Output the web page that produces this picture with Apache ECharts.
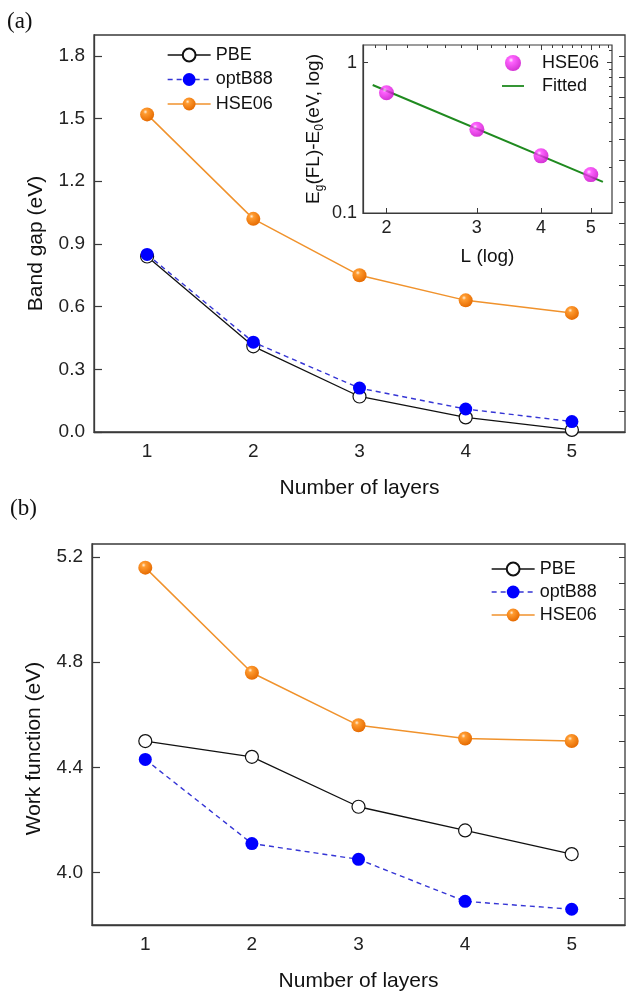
<!DOCTYPE html>
<html><head><meta charset="utf-8">
<script src="https://cdn.jsdelivr.net/npm/echarts@6/dist/echarts.min.js"></script>
<style>html,body{margin:0;padding:0;background:#fff}#c{width:626px;height:993px}</style>
</head><body><div id="c"></div>
<script>
// ---------- data ----------
const layers = ['1', '2', '3', '4', '5'];
const gapPBE = [0.84, 0.41, 0.17, 0.07, 0.01];
const gapOptB88 = [0.85, 0.43, 0.21, 0.11, 0.05];
const gapHSE06 = [1.52, 1.02, 0.75, 0.63, 0.57];
const wfPBE = [4.50, 4.44, 4.25, 4.16, 4.07];
const wfOptB88 = [4.43, 4.11, 4.05, 3.89, 3.86];
const wfHSE06 = [5.16, 4.76, 4.56, 4.51, 4.50];
const insetL = [2, 3, 4, 5];
const insetHSE06 = [0.63, 0.36, 0.24, 0.18];
const fitL = [1.88, 5.28];
const fitVal = [0.71, 0.161];
// tick labels / tick positions
const gapTicks = [0, 0.3, 0.6, 0.9, 1.2, 1.5, 1.8];
const gapMinorTicks = [0.1, 0.2, 0.4, 0.5, 0.7, 0.8, 1.0, 1.1, 1.3, 1.4, 1.6, 1.7];
const wfTicks = [4.0, 4.4, 4.8, 5.2];
const wfMinorTicks = [3.9, 4.1, 4.2, 4.3, 4.5, 4.6, 4.7, 4.9, 5.0, 5.1];
const insetLTicks = [2, 3, 4, 5];
const insetLMinor = [1.9, 2.2, 2.4, 2.6, 2.8, 3.2, 3.4, 3.6, 3.8, 4.2, 4.4, 4.6, 4.8, 5.2, 5.4];
const insetYTicks = [0.1, 1];
const insetYMinor = [0.2, 0.3, 0.4, 0.5, 0.6, 0.7, 0.8, 0.9, 1.2];

// ---------- styles ----------
const FONT = 'Liberation Sans';
const AX = '#3a3a3a';
const orangeBall = {type: 'radial', x: 0.38, y: 0.32, r: 0.7, colorStops: [
  {offset: 0, color: '#fff1dc'}, {offset: 0.22, color: '#ff9b30'}, {offset: 1, color: '#e56a00'}]};
const magentaBall = {type: 'radial', x: 0.38, y: 0.32, r: 0.7, colorStops: [
  {offset: 0, color: '#ffe6ff'}, {offset: 0.22, color: '#ff3cff'}, {offset: 1, color: '#c800c8'}]};
const lbl = {fontFamily: FONT, fontSize: 19, color: '#222'};

function catX(grid, gap) {
  return {type: 'category', gridIndex: grid, data: layers, boundaryGap: true,
    axisLine: {lineStyle: {color: AX, width: 1.3}},
    axisTick: {inside: true, alignWithLabel: true, length: 7, lineStyle: {color: AX, width: 1.2}},
    axisLabel: Object.assign({margin: 10}, lbl),
    splitLine: {show: false},
    name: 'Number of layers', nameLocation: 'middle', nameGap: gap,
    nameTextStyle: {fontFamily: FONT, fontSize: 21, color: '#111'}};
}
function valY(grid, min, max, ticks, name, gap, shift) {
  return {type: 'value', gridIndex: grid, min: min, max: max,
    axisLine: {show: true, lineStyle: {color: AX, width: 1.3}},
    axisTick: {show: true, inside: true, length: 8, customValues: ticks, lineStyle: {color: AX, width: 1.2}},
    axisLabel: Object.assign({margin: 9, customValues: ticks, formatter: v => Number(v).toFixed(1)}, lbl),
    splitLine: {show: false},
    name: name, nameLocation: 'middle', nameGap: gap,
    nameTextStyle: {fontFamily: FONT, fontSize: 21, color: '#111', padding: [0, shift, 0, 0]}};
}
function tickOnly(type, grid, min, max, ticks, opts) {
  return Object.assign({type: type, gridIndex: grid, min: min, max: max,
    axisLine: {show: false},
    axisTick: {show: true, inside: opts.inside, length: opts.len, customValues: ticks, lineStyle: {color: AX, width: 1}},
    axisLabel: {show: false}, splitLine: {show: false}}, opts.extra || {});
}
const legendText = {fontFamily: FONT, fontSize: 18, color: '#111'};

const option = {
  backgroundColor: '#fff',
  animation: false,
  textStyle: {fontFamily: FONT},
  graphic: [
    {type: 'text', left: 7, top: 10, style: {text: '(a)', fontFamily: 'Liberation Serif', fontSize: 23, fill: '#111'}},
    {type: 'text', left: 10, top: 497, style: {text: '(b)', fontFamily: 'Liberation Serif', fontSize: 23, fill: '#111'}}
  ],
  grid: [
    {left: 94, top: 35, width: 531, height: 397, show: true, borderColor: AX, borderWidth: 1.3, backgroundColor: 'transparent'},
    {left: 92, top: 544, width: 533, height: 388, show: true, borderColor: AX, borderWidth: 1.3, backgroundColor: 'transparent'},
    {left: 363, top: 45, width: 249, height: 168, show: true, borderColor: AX, borderWidth: 1.2, backgroundColor: '#fff'}
  ],
  xAxis: [
    catX(0, 46), catX(1, 46),
    {type: 'log', logBase: 10, gridIndex: 2, min: 1.8, max: 5.5,
      axisLine: {lineStyle: {color: AX, width: 1.2}},
      axisTick: {inside: true, length: 5, customValues: insetLTicks, lineStyle: {color: AX}},
      axisLabel: Object.assign({margin: 6, customValues: insetLTicks}, lbl, {fontSize: 18}),
      splitLine: {show: false}, minorTick: {show: false},
      name: 'L (log)', nameLocation: 'middle', nameGap: 34,
      nameTextStyle: {fontFamily: FONT, fontSize: 19, color: '#111'}},
    tickOnly('log', 2, 1.8, 5.5, insetLMinor, {inside: true, len: 3}),
    tickOnly('log', 2, 1.8, 5.5, insetLTicks, {inside: true, len: 5, extra: {position: 'top'}}),
    tickOnly('log', 2, 1.8, 5.5, insetLMinor, {inside: true, len: 3, extra: {position: 'top'}})
  ],
  yAxis: [
    valY(0, 0, 1.9, gapTicks, 'Band gap (eV)', 47, 20),
    tickOnly('value', 0, 0, 1.9, gapMinorTicks, {inside: true, len: 4}),
    tickOnly('value', 0, 0, 1.9, gapTicks.concat(gapMinorTicks), {inside: true, len: 6, extra: {position: 'right'}}),
    valY(1, 3.8, 5.25, wfTicks, 'Work function (eV)', 47, 28),
    tickOnly('value', 1, 3.8, 5.25, wfMinorTicks, {inside: true, len: 4}),
    tickOnly('value', 1, 3.8, 5.25, wfTicks.concat(wfMinorTicks), {inside: true, len: 6, extra: {position: 'right'}}),
    {type: 'log', logBase: 10, gridIndex: 2, min: 0.1, max: 1.31,
      axisLine: {lineStyle: {color: AX, width: 1.2}},
      axisTick: {inside: true, length: 5, customValues: insetYTicks, lineStyle: {color: AX}},
      axisLabel: Object.assign({margin: 6, customValues: insetYTicks, formatter: v => String(v)}, lbl, {fontSize: 18}),
      splitLine: {show: false}, minorTick: {show: false},
      name: '{n|E}{s|g}{n|(FL)-E}{s|0}{n|(eV, log)}', nameLocation: 'middle', nameGap: 37,
      nameTextStyle: {fontFamily: FONT, fontSize: 19, color: '#111',
        rich: {n: {fontFamily: FONT, fontSize: 19, color: '#111', lineHeight: 24, verticalAlign: 'middle'},
               s: {fontFamily: FONT, fontSize: 12, color: '#111', lineHeight: 24, verticalAlign: 'bottom', padding: [10, 0, 0, 0]}}}},
    tickOnly('log', 2, 0.1, 1.31, insetYMinor, {inside: true, len: 3}),
    tickOnly('log', 2, 0.1, 1.31, insetYTicks, {inside: true, len: 5, extra: {position: 'right'}}),
    tickOnly('log', 2, 0.1, 1.31, insetYMinor, {inside: true, len: 3, extra: {position: 'right'}})
  ],
  legend: [
    {left: 167, top: 46, padding: 0, orient: 'vertical', itemWidth: 43, itemHeight: 16, itemGap: 6.5,
      lineStyle: {width: 1.3}, data: ['PBE', 'optB88', 'HSE06'], textStyle: legendText},
    {left: 491, top: 560, padding: 0, orient: 'vertical', itemWidth: 43, itemHeight: 16, itemGap: 5,
      lineStyle: {width: 1.3}, data: ['PBE', 'optB88', 'HSE06'], textStyle: legendText},
    {left: 502, top: 54, padding: 0, orient: 'vertical', itemWidth: 22, itemHeight: 16, itemGap: 5,
      data: [{name: 'HSE06 (inset)'}, {name: 'Fitted', icon: 'path://M0,0 M0,7.1 L22,7.1 L22,8.9 L0,8.9 Z M22,16'}],
      formatter: n => n.replace(' (inset)', ''),
      textStyle: Object.assign({padding: [0, 0, 0, 13]}, legendText)}
  ],
  series: [
    {name: 'PBE', type: 'line', xAxisIndex: 0, yAxisIndex: 0, data: gapPBE, symbol: 'circle', symbolSize: 13,
      lineStyle: {color: '#111', width: 1.3}, itemStyle: {color: '#fff', borderColor: '#111', borderWidth: 1.2}, z: 3},
    {name: 'optB88', type: 'line', xAxisIndex: 0, yAxisIndex: 0, data: gapOptB88, symbol: 'circle', symbolSize: 13,
      lineStyle: {color: '#3535d5', width: 1.4, type: [5, 4]}, itemStyle: {color: '#0000ff'}, z: 4},
    {name: 'HSE06', type: 'line', xAxisIndex: 0, yAxisIndex: 0, data: gapHSE06, symbol: 'circle', symbolSize: 14,
      lineStyle: {color: '#f0922c', width: 1.5}, itemStyle: {color: orangeBall}, z: 5},
    {name: 'PBE', type: 'line', xAxisIndex: 1, yAxisIndex: 3, data: wfPBE, symbol: 'circle', symbolSize: 13,
      lineStyle: {color: '#111', width: 1.3}, itemStyle: {color: '#fff', borderColor: '#111', borderWidth: 1.2}, z: 3},
    {name: 'optB88', type: 'line', xAxisIndex: 1, yAxisIndex: 3, data: wfOptB88, symbol: 'circle', symbolSize: 13,
      lineStyle: {color: '#3535d5', width: 1.4, type: [5, 4]}, itemStyle: {color: '#0000ff'}, z: 4},
    {name: 'HSE06', type: 'line', xAxisIndex: 1, yAxisIndex: 3, data: wfHSE06, symbol: 'circle', symbolSize: 14,
      lineStyle: {color: '#f0922c', width: 1.5}, itemStyle: {color: orangeBall}, z: 5},
    {name: 'Fitted', type: 'line', xAxisIndex: 2, yAxisIndex: 6, data: fitL.map((x, i) => [x, fitVal[i]]),
      showSymbol: false, symbol: 'none', lineStyle: {color: '#1f8a1f', width: 2}, itemStyle: {color: '#1f8a1f'}, z: 3},
    {name: 'HSE06 (inset)', type: 'scatter', xAxisIndex: 2, yAxisIndex: 6, data: insetL.map((x, i) => [x, insetHSE06[i]]),
      symbol: 'circle', symbolSize: 15, itemStyle: {color: magentaBall}, z: 4}
  ]
};
const chart = echarts.init(document.getElementById('c'), null, {renderer: 'canvas'});
chart.setOption(option);
</script></body></html>
